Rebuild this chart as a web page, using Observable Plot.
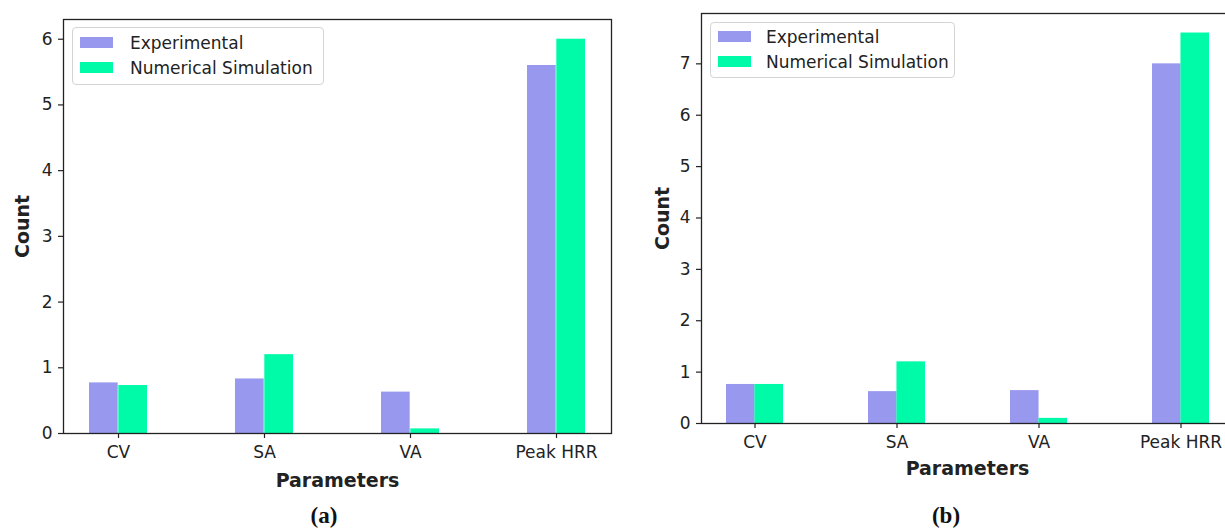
<!DOCTYPE html>
<html>
<head>
<meta charset="utf-8">
<script src="https://cdn.jsdelivr.net/npm/d3@7"></script>
<script src="https://cdn.jsdelivr.net/npm/@observablehq/plot@0.6"></script>
<style>
  html, body { margin: 0; padding: 0; background: #fff; width: 1225px; height: 529px; overflow: hidden; position: relative; }
  .panel { position: absolute; top: 0; }
  .panel svg { max-width: none !important; }
  .legend { position: absolute; background: rgba(255,255,255,0.85); border: 1px solid #d4d4d4; border-radius: 4px;
            font-family: "DejaVu Sans", sans-serif; font-size: 17px; color: #222; box-sizing: border-box; }
  .legend .row { position: absolute; display: flex; align-items: center; height: 25px; white-space: nowrap; }
  .legend .sw { width: 33px; height: 11px; display: inline-block; }
  .caption { position: absolute; font-family: "Liberation Serif", serif; font-weight: bold; font-size: 23px; color: #111; transform: translateX(-50%); }
  svg g[aria-label="x-axis label"] text, svg g[aria-label="y-axis label"] text { font-weight: bold; font-size: 19px; }
</style>
</head>
<body>
<div id="pa" class="panel" style="left:0px; width:620px"></div>
<div id="pb" class="panel" style="left:640px; width:600px"></div>
<script>
const categories = ["CV", "SA", "VA", "Peak HRR"];
const seriesNames = ["Experimental", "Numerical Simulation"];
const colors = ["#9898ef", "#00fba8"];
// panel (a)
const expA = [0.77, 0.83, 0.63, 5.6];
const numA = [0.73, 1.2, 0.07, 6.0];
const ticksA = [0, 1, 2, 3, 4, 5, 6];
// panel (b)
const expB = [0.76, 0.62, 0.64, 7.0];
const numB = [0.76, 1.2, 0.1, 7.6];
const ticksB = [0, 1, 2, 3, 4, 5, 6, 7];
const xLabel = "Parameters";
const yLabel = "Count";
const captions = ["(a)", "(b)"];

function panel(exp, num, ymax, ticks, cfg) {
  const rows = categories.flatMap((c, i) => [
    {cat: c, series: seriesNames[0], value: exp[i]},
    {cat: c, series: seriesNames[1], value: num[i]}
  ]);
  const innerW = cfg.width - cfg.marginLeft - cfg.marginRight;
  const paddingInner = 0.6, paddingOuter = 0.17;
  const step = innerW / (categories.length - paddingInner + 2 * paddingOuter);
  const half = step * (1 - paddingInner) / 2;
  return Plot.plot({
    width: cfg.width, height: cfg.height,
    marginLeft: cfg.marginLeft, marginRight: cfg.marginRight,
    marginTop: cfg.marginTop, marginBottom: cfg.marginBottom,
    style: {fontFamily: "DejaVu Sans, sans-serif", fontSize: "17px", color: "#222", background: "transparent", overflow: "visible", maxWidth: "none"},
    x: {type: "band", domain: categories, paddingInner, paddingOuter, align: 0.5},
    y: {domain: [0, ymax]},
    color: {domain: seriesNames, range: colors},
    marks: [
      Plot.barY(rows.filter(d => d.series === seriesNames[0]), {x: "cat", y: "value", fill: "series", insetRight: half}),
      Plot.barY(rows.filter(d => d.series === seriesNames[1]), {x: "cat", y: "value", fill: "series", insetLeft: half}),
      Plot.frame({stroke: "#222", strokeWidth: 1.3}),
      Plot.axisX({tickSize: 5, tickPadding: 7, stroke: "#222", strokeWidth: 1.2, label: xLabel, labelAnchor: "center", labelArrow: "none", labelOffset: cfg.xLabelOffset}),
      Plot.axisY({ticks, tickFormat: d3.format("d"), tickSize: 5, tickPadding: 6, stroke: "#222", strokeWidth: 1.2, label: yLabel, labelAnchor: "center", labelArrow: "none", labelOffset: cfg.yLabelOffset})
    ]
  });
}

document.getElementById("pa").append(panel(expA, numA, 6.3, ticksA,
  {width: 620, height: 500, marginLeft: 63, marginRight: 9, marginTop: 19, marginBottom: 67, xLabelOffset: 53, yLabelOffset: 48}));
document.getElementById("pb").append(panel(expB, numB, 7.98, ticksB,
  {width: 600, height: 490, marginLeft: 61, marginRight: 7, marginTop: 13, marginBottom: 67, xLabelOffset: 51, yLabelOffset: 46}));

function legend(left, top, w, h, rowTops, textLeft) {
  const div = document.createElement("div");
  div.className = "legend";
  Object.assign(div.style, {left: left + "px", top: top + "px", width: w + "px", height: h + "px"});
  seriesNames.forEach((s, i) => {
    const r = document.createElement("div");
    r.className = "row";
    r.style.left = "7px";
    r.style.top = rowTops[i] + "px";
    const sw = document.createElement("span");
    sw.className = "sw";
    sw.style.background = colors[i];
    sw.style.marginRight = textLeft + "px";
    const t = document.createElement("span");
    t.textContent = s;
    r.append(sw, t);
    div.append(r);
  });
  document.body.append(div);
}
legend(72, 27, 252, 58, [2, 27], 17);
legend(710, 22, 245, 56, [1, 26], 15);

[[324, 503], [946, 503]].forEach(([x, y], i) => {
  const c = document.createElement("div");
  c.className = "caption";
  c.style.left = x + "px";
  c.style.top = y + "px";
  c.textContent = captions[i];
  document.body.append(c);
});
</script>
</body>
</html>
